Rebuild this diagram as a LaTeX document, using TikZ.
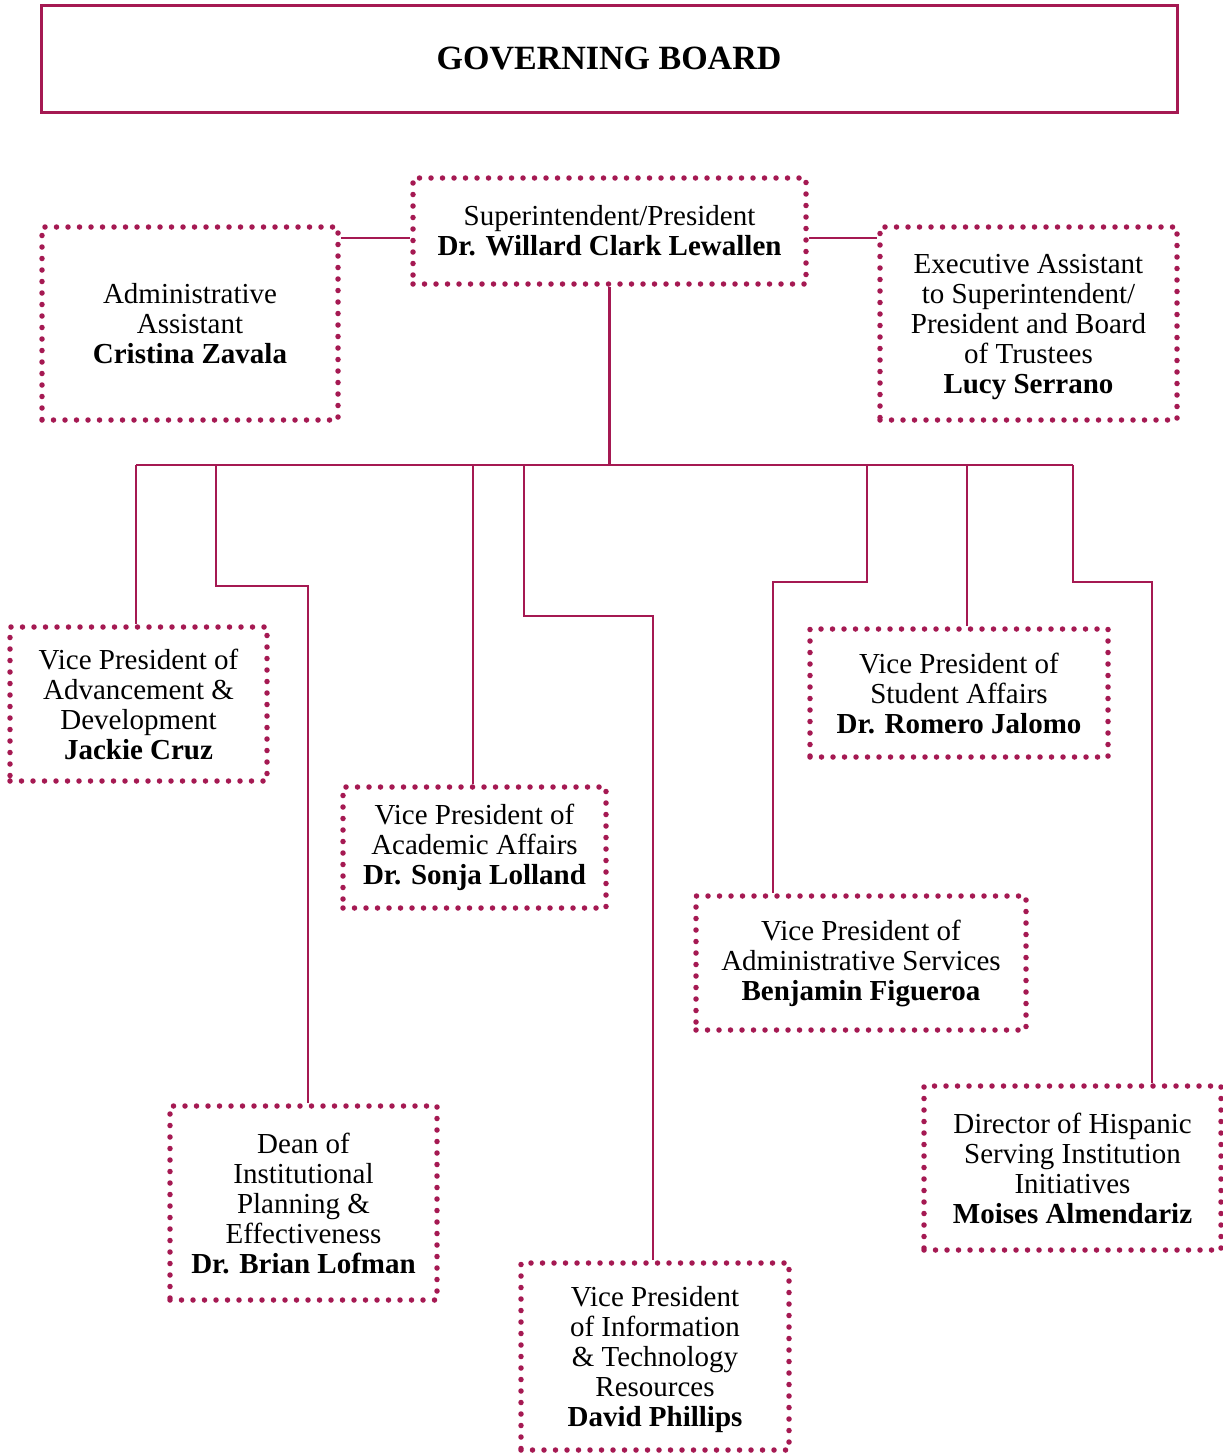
\documentclass[tikz,border=0pt]{standalone}
\usepackage{fontspec}
\setmainfont{Liberation Serif}
\usepackage{tikz}
\usetikzlibrary{positioning,calc}
\definecolor{board}{RGB}{165,25,82}
\tikzset{%
	topbox/.style  = {draw=board, line width=3pt, rectangle, minimum width=1136pt, minimum height=107pt, font=\fontsize{34}{38}\selectfont\bfseries},
	unit/.style    = {draw=board, line width=5.5pt, dash pattern=on 0pt off 11.5pt, line cap=round, rectangle, align=center, inner sep=0pt, font=\fontsize{29}{30}\selectfont},
	link/.style    = {draw=board, line width=2.5pt},
	waypoint/.style = {coordinate},
}

\begin{document}
\begin{tikzpicture}[x=1pt,y=-1pt]
	\useasboundingbox (0,0) rectangle (1223,1456);
	\node [topbox] (gb) at (609,58.5) {GOVERNING BOARD};
	\node [unit,minimum width=393pt,minimum height=106pt] (sup) at (609.5,231) {Superintendent/President\\\textbf{Dr. Willard Clark Lewallen}};
	\node [unit,minimum width=296pt,minimum height=193pt] (aa) at (190,323.5) {Administrative\\Assistant\\\textbf{Cristina Zavala}};
	\node [unit,minimum width=297pt,minimum height=193pt,text depth=0pt] (ea) at (1028.5,323.5) {Executive Assistant\\to Superintendent/\\President and Board\\of Trustees\\\textbf{Lucy Serrano}};
	\node [unit,minimum width=257pt,minimum height=154pt] (adv) at (138.5,704) {Vice President of\\Advancement \&\\Development\\\textbf{Jackie Cruz}};
	\node [unit,minimum width=263pt,minimum height=121pt] (acad) at (474.5,847.5) {Vice President of\\Academic Affairs\\\textbf{Dr. Sonja Lolland}};
	\node [unit,minimum width=267pt,minimum height=194pt] (dean) at (303.5,1203) {Dean of\\Institutional\\Planning \&\\Effectiveness\\\textbf{Dr. Brian Lofman}};
	\node [unit,minimum width=268pt,minimum height=187pt,text depth=0pt] (info) at (655,1356.5) {Vice President\\of Information\\\& Technology\\Resources\\\textbf{David Phillips}};
	\node [unit,minimum width=298pt,minimum height=128pt] (stu) at (959,693) {Vice President of\\Student Affairs\\\textbf{Dr. Romero Jalomo}};
	\node [unit,minimum width=330pt,minimum height=134pt] (asv) at (861,963) {Vice President of\\Administrative Services\\\textbf{Benjamin Figueroa}};
	\node [unit,minimum width=297pt,minimum height=164pt] (dir) at (1072.5,1168) {Director of Hispanic\\Serving Institution\\Initiatives\\\textbf{Moises Almendariz}};
	\node [waypoint] (busl) at (136,465) {};
	\node [waypoint] (busr) at (1073,465) {};
	\node [waypoint] (bus) at (sup.south |- busl) {};

	\draw[link] (aa.east |- 0,238) -- (sup.west |- 0,238);
	\draw[link] (sup.east |- 0,238) -- (ea.west |- 0,238);
	\draw[link] (sup.south) -- (bus);
	\draw[link] (busl) -- (busr);
	\draw[link] (busl) -- ([xshift=-2.5pt]adv.north);
	\draw[link] (bus -| 216,0) |- (308,586) -- ([xshift=4.5pt]dean.north);
	\draw[link] (bus -| 473,0) -- ([xshift=-1.5pt]acad.north);
	\draw[link] (bus -| 524,0) |- (653,616) -- ([xshift=-2pt]info.north);
	\draw[link] (bus -| 867,0) |- (773,582) -- ([xshift=-88pt]asv.north);
	\draw[link] (bus -| 967,0) -- ([xshift=8pt]stu.north);
	\draw[link] (busr) |- (1152,582) -- ([xshift=79.5pt]dir.north);
\end{tikzpicture}
\end{document}
